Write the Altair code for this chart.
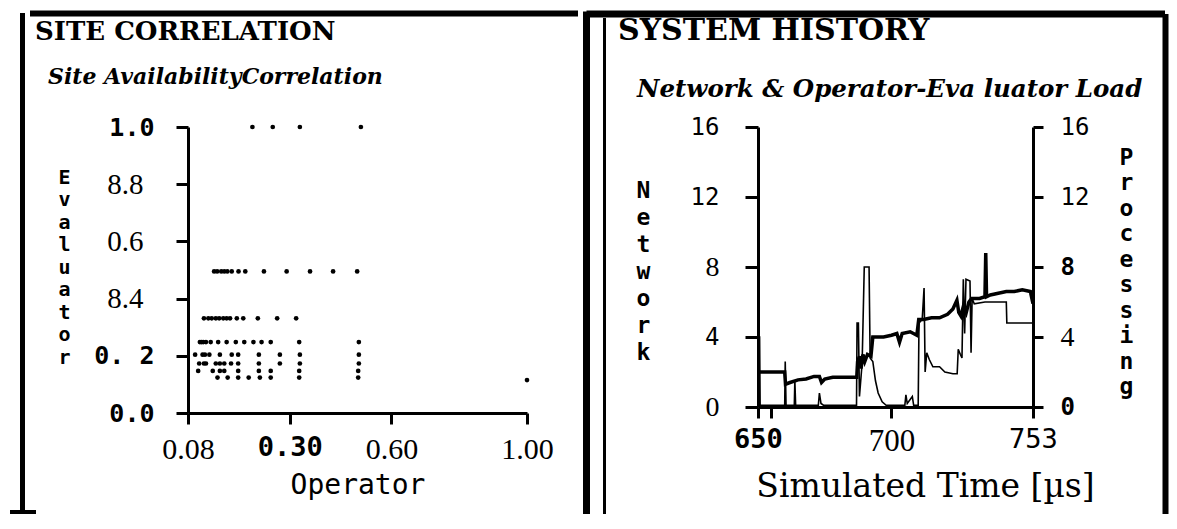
import altair as alt
import pandas as pd

# ---------------- Left panel: Site availability correlation ----------------
# evaluator level of each row of dots, and the operator values of the dots in that row
row_evaluator = [1.0, 0.495, 0.331, 0.248, 0.204, 0.173, 0.147, 0.124, 0.115]
row_operator = [
    [0.19, 0.25, 0.33, 0.51],
    [0.077, 0.086, 0.098, 0.107, 0.116, 0.129, 0.149, 0.169, 0.224, 0.291, 0.360, 0.428, 0.499],
    [0.047, 0.060, 0.070, 0.082, 0.092, 0.104, 0.114, 0.124, 0.144, 0.163, 0.206, 0.263, 0.319],
    [0.035, 0.040, 0.045, 0.053, 0.067, 0.089, 0.114, 0.141, 0.166, 0.193, 0.217, 0.244, 0.328, 0.504],
    [0.021, 0.043, 0.050, 0.063, 0.094, 0.129, 0.148, 0.209, 0.271, 0.330, 0.504],
    [0.033, 0.047, 0.053, 0.082, 0.094, 0.107, 0.127, 0.148, 0.209, 0.271, 0.330, 0.504],
    [0.030, 0.073, 0.094, 0.107, 0.148, 0.209, 0.244, 0.328, 0.502],
    [0.087, 0.117, 0.148, 0.179, 0.212, 0.244, 0.328, 0.502],
    [1.0],
]
x_ticks_left = [0.0, 0.3, 0.6, 1.0]
y_ticks_left = [0.0, 0.2, 0.4, 0.6, 0.8, 1.0]

# ---------------- Right panel: system history ----------------
net_time = [650.0, 655.0, 660.0, 660.3, 662.0, 665.0, 668.0, 671.0, 673.0, 673.8,
            675.0, 678.0, 682.0, 687.0, 687.3, 688.0, 688.6, 689.3, 690.0, 691.0,
            692.3, 693.0, 697.0, 700.0, 702.0, 703.0, 704.0, 707.0, 709.5, 710.2,
            712.0, 715.0, 718.0, 721.0, 723.0, 724.5, 725.2, 726.0, 727.0, 728.0,
            729.0, 730.0, 733.0, 735.0, 735.3, 735.6, 737.0, 740.0, 743.0, 746.0,
            749.0, 752.0, 753.0]
net_load = [2.0, 2.0, 2.0, 1.3, 1.4, 1.55, 1.6, 1.75, 1.75, 1.4,
            1.6, 1.7, 1.7, 1.7, 2.6, 2.9, 2.2, 3.0, 2.6, 3.0,
            2.9, 4.0, 4.0, 4.1, 4.2, 3.7, 4.2, 4.3, 4.1, 5.0,
            5.0, 5.1, 5.1, 5.3, 5.6, 6.1, 5.4, 5.2, 5.8, 5.4,
            6.0, 6.2, 6.2, 6.3, 8.8, 6.3, 6.4, 6.5, 6.6, 6.6,
            6.7, 6.6, 5.9]

proc_time = [650.0, 650.6, 650.8, 660.0, 660.2, 660.5, 663.6, 663.8, 664.1, 672.6,
             673.0, 673.6, 674.5, 686.9, 687.1, 687.6, 688.0, 689.0, 689.8, 691.6,
             692.0, 693.0, 694.0, 695.0, 696.5, 698.0, 705.0, 705.4, 705.9, 707.8,
             708.3, 710.0, 710.3, 711.5, 712.2, 712.6, 713.2, 714.2, 715.5, 718.0,
             720.0, 723.0, 724.6, 725.0, 725.8, 726.4, 726.9, 727.4, 727.9, 729.4,
             729.8, 730.2, 731.0, 735.0, 740.0, 743.0, 743.2, 753.0]
proc_load = [4.0, 4.0, 0.1, 0.1, 2.6, 0.1, 0.1, 1.5, 0.1, 0.1,
             0.8, 0.2, 0.1, 0.1, 4.8, 4.8, 0.6, 2.5, 8.0, 8.0,
             2.8, 2.6, 1.5, 0.8, 0.3, 0.1, 0.1, 0.7, 0.2, 0.6,
             0.1, 0.1, 4.8, 5.0, 6.8, 2.0, 3.1, 2.7, 2.3, 2.3,
             2.0, 1.9, 1.9, 3.3, 3.0, 2.8, 7.3, 4.2, 7.3, 7.2,
             3.1, 6.2, 5.9, 6.0, 6.0, 6.0, 4.8, 4.8]
x_ticks_right = [650, 655, 700, 753]
y_ticks_right = [0, 4, 8, 12, 16]

# ---------------- data frames ----------------
ops, evs = [], []
for ev, xs in zip(row_evaluator, row_operator):
    for xv in xs:
        ops.append(xv)
        evs.append(ev)
scatter_df = pd.DataFrame({"operator": ops, "evaluator": evs})
net_df = pd.DataFrame({"time": net_time, "load": net_load, "idx": range(len(net_time))})
proc_df = pd.DataFrame({"time": proc_time, "load": proc_load, "idx": range(len(proc_time))})
one = pd.DataFrame({"k": [0]})

BLACK = "black"
SERIF = "Liberation Serif"
MONO = "DejaVu Sans Mono"


def cond(test, a, b):
    return {"condition": {"test": test, "value": a}, "value": b}


def hrule(x1, x2, y, w):
    return alt.Chart(one).mark_rule(color=BLACK, strokeWidth=w).encode(
        x=alt.value(x1), x2=alt.value(x2), y=alt.value(y))


def vrule(x, y1, y2, w):
    return alt.Chart(one).mark_rule(color=BLACK, strokeWidth=w).encode(
        x=alt.value(x), y=alt.value(y1), y2=alt.value(y2))


def subtitle(text, x, y, size):
    return alt.Chart(one).mark_text(
        text=text, font="DejaVu Serif", fontSize=size, fontWeight="bold", fontStyle="italic",
        align="left", baseline="alphabetic", color=BLACK).encode(x=alt.value(x), y=alt.value(y))


axis_common = dict(domainColor=BLACK, domainWidth=3, tickColor=BLACK, tickWidth=3,
                   labelColor=BLACK, titleColor=BLACK, grid=False,
                   labelOverlap=False, labelFlush=False, labelBound=False)

# ---- left panel axes ----
serif_y = "abs(datum.value-0.4)<0.01 || abs(datum.value-0.6)<0.01 || abs(datum.value-0.8)<0.01"
left_y_axis = alt.Axis(
    values=y_ticks_left, format=".1f",
    labelExpr="datum.label == '0.8' ? '8.8' : datum.label == '0.4' ? '8.4' : datum.label == '0.2' ? '0. 2' : datum.label",
    labelFont=cond(serif_y, SERIF, MONO),
    labelFontSize=cond(serif_y, 29, 25),
    labelFontWeight=cond(serif_y, "normal", "bold"),
    labelPadding=cond(serif_y, 33, 22), tickSize=12,
    title=list("Evaluator"), titleAngle=0, titleAlign="center", titleBaseline="top",
    titleX=-124, titleY=40, titleFont=MONO, titleFontSize=20, titleFontWeight="bold",
    titleLineHeight=22.5,
    **axis_common)

mono_x = "abs(datum.value-0.3)<0.01"
left_x_axis = alt.Axis(
    values=x_ticks_left, format=".2f",
    labelExpr="datum.label == '0.00' ? '0.08' : datum.label",
    labelFont=cond(mono_x, MONO, SERIF),
    labelFontSize=cond(mono_x, 27, 30),
    labelFontWeight=cond(mono_x, "bold", "normal"),
    labelPadding=10, tickSize=11,
    title="Operator", titleFont=MONO, titleFontSize=28, titleFontWeight="normal",
    titleBaseline="middle", titleY=72,
    **axis_common)

points = alt.Chart(scatter_df).mark_circle(color=BLACK, size=22, opacity=1).encode(
    x=alt.X("operator:Q", scale=alt.Scale(domain=[0, 1], nice=False, zero=False), axis=left_x_axis),
    y=alt.Y("evaluator:Q", scale=alt.Scale(domain=[0, 1], nice=False), axis=left_y_axis),
)

left_frames = [
    vrule(-165.5, -114, 387, 5),
    hrule(-158, 390, -113.5, 6),
    hrule(-178, -152, 385, 4),
]

left_title = alt.TitleParams(
    text="SITE CORRELATION",
    anchor="start", frame="group", dx=-153, dy=34, offset=0,
    font="DejaVu Serif", fontSize=26, fontWeight="bold", color=BLACK)

left = alt.layer(
    points, subtitle("Site AvailabilityCorrelation", -140, -43, 22), *left_frames
).properties(width=339, height=286, title=left_title)

# ---- right panel axes ----
right_x_axis = alt.Axis(
    values=x_ticks_right,
    labelExpr="datum.value == 655 ? '' : datum.label",
    labelFont=cond("datum.value == 700", SERIF, MONO),
    labelFontSize=cond("datum.value == 700", 31, 27),
    labelFontWeight=cond("datum.value == 650", "bold", "normal"),
    labelPadding=8, tickSize=11,
    title="Simulated Time [µs]", titleFont="DejaVu Serif", titleFontSize=33,
    titleFontWeight="normal", titleBaseline="middle", titleAlign="center",
    titleX=167, titleY=79,
    **axis_common)

net_serif = "datum.value == 8 || datum.value == 0"
net_axis = alt.Axis(
    values=y_ticks_right, orient="left",
    labelFont=cond(net_serif, SERIF, MONO),
    labelFontSize=cond(net_serif, 28, 24),
    labelPadding=26, tickSize=13,
    title=list("Network"), titleAngle=0, titleAlign="center", titleBaseline="top",
    titleX=-115, titleY=52, titleFont=MONO, titleFontSize=23, titleFontWeight="bold",
    titleLineHeight=27,
    **axis_common)

proc_axis = alt.Axis(
    values=y_ticks_right, orient="right",
    labelFont=cond("datum.value == 4", SERIF, MONO),
    labelFontSize=cond("datum.value == 4", 28, 24),
    labelFontWeight=cond("datum.value == 0 || datum.value == 8", "bold", "normal"),
    labelPadding=17, tickSize=10,
    title=list("Processing"), titleAngle=0, titleAlign="center", titleBaseline="top",
    titleX=93, titleY=19, titleFont=MONO, titleFontSize=23, titleFontWeight="bold",
    titleLineHeight=25.5,
    **axis_common)

x_scale_r = alt.Scale(domain=[650, 753], nice=False, zero=False)

net_line = alt.Chart(net_df).mark_line(color=BLACK, strokeWidth=3.5).encode(
    x=alt.X("time:Q", scale=x_scale_r, axis=right_x_axis),
    y=alt.Y("load:Q", scale=alt.Scale(domain=[0, 16], nice=False), axis=net_axis),
    order="idx:Q",
)
proc_line = alt.Chart(proc_df).mark_line(color=BLACK, strokeWidth=1.6).encode(
    x=alt.X("time:Q", scale=x_scale_r, axis=right_x_axis),
    y=alt.Y("load:Q", scale=alt.Scale(domain=[0, 16], nice=False), axis=proc_axis),
    order="idx:Q",
)

right_frames = [
    vrule(-171.5, -115.5, 387, 7),
    vrule(-153.5, -109, 387, 3),
    hrule(-171.5, 407, -113, 7),
    vrule(407.5, -113, 387, 6),
]

right_title = alt.TitleParams(
    text="SYSTEM HISTORY",
    anchor="start", frame="group", dx=-140, dy=38, offset=0,
    font="DejaVu Serif", fontSize=30, fontWeight="bold", color=BLACK)

right = alt.layer(
    net_line, proc_line, subtitle("Network & Operator-Eva luator Load", -121, -30, 24.5), *right_frames
).resolve_scale(y="independent").properties(width=275, height=280, title=right_title)

chart = alt.hconcat(left, right, spacing=2).properties(
    padding={"left": 0, "top": 0, "right": 0, "bottom": 0}, background="white"
).configure_view(stroke=None)

chart.save("out.html", embed_options={"renderer": "svg", "actions": False})
